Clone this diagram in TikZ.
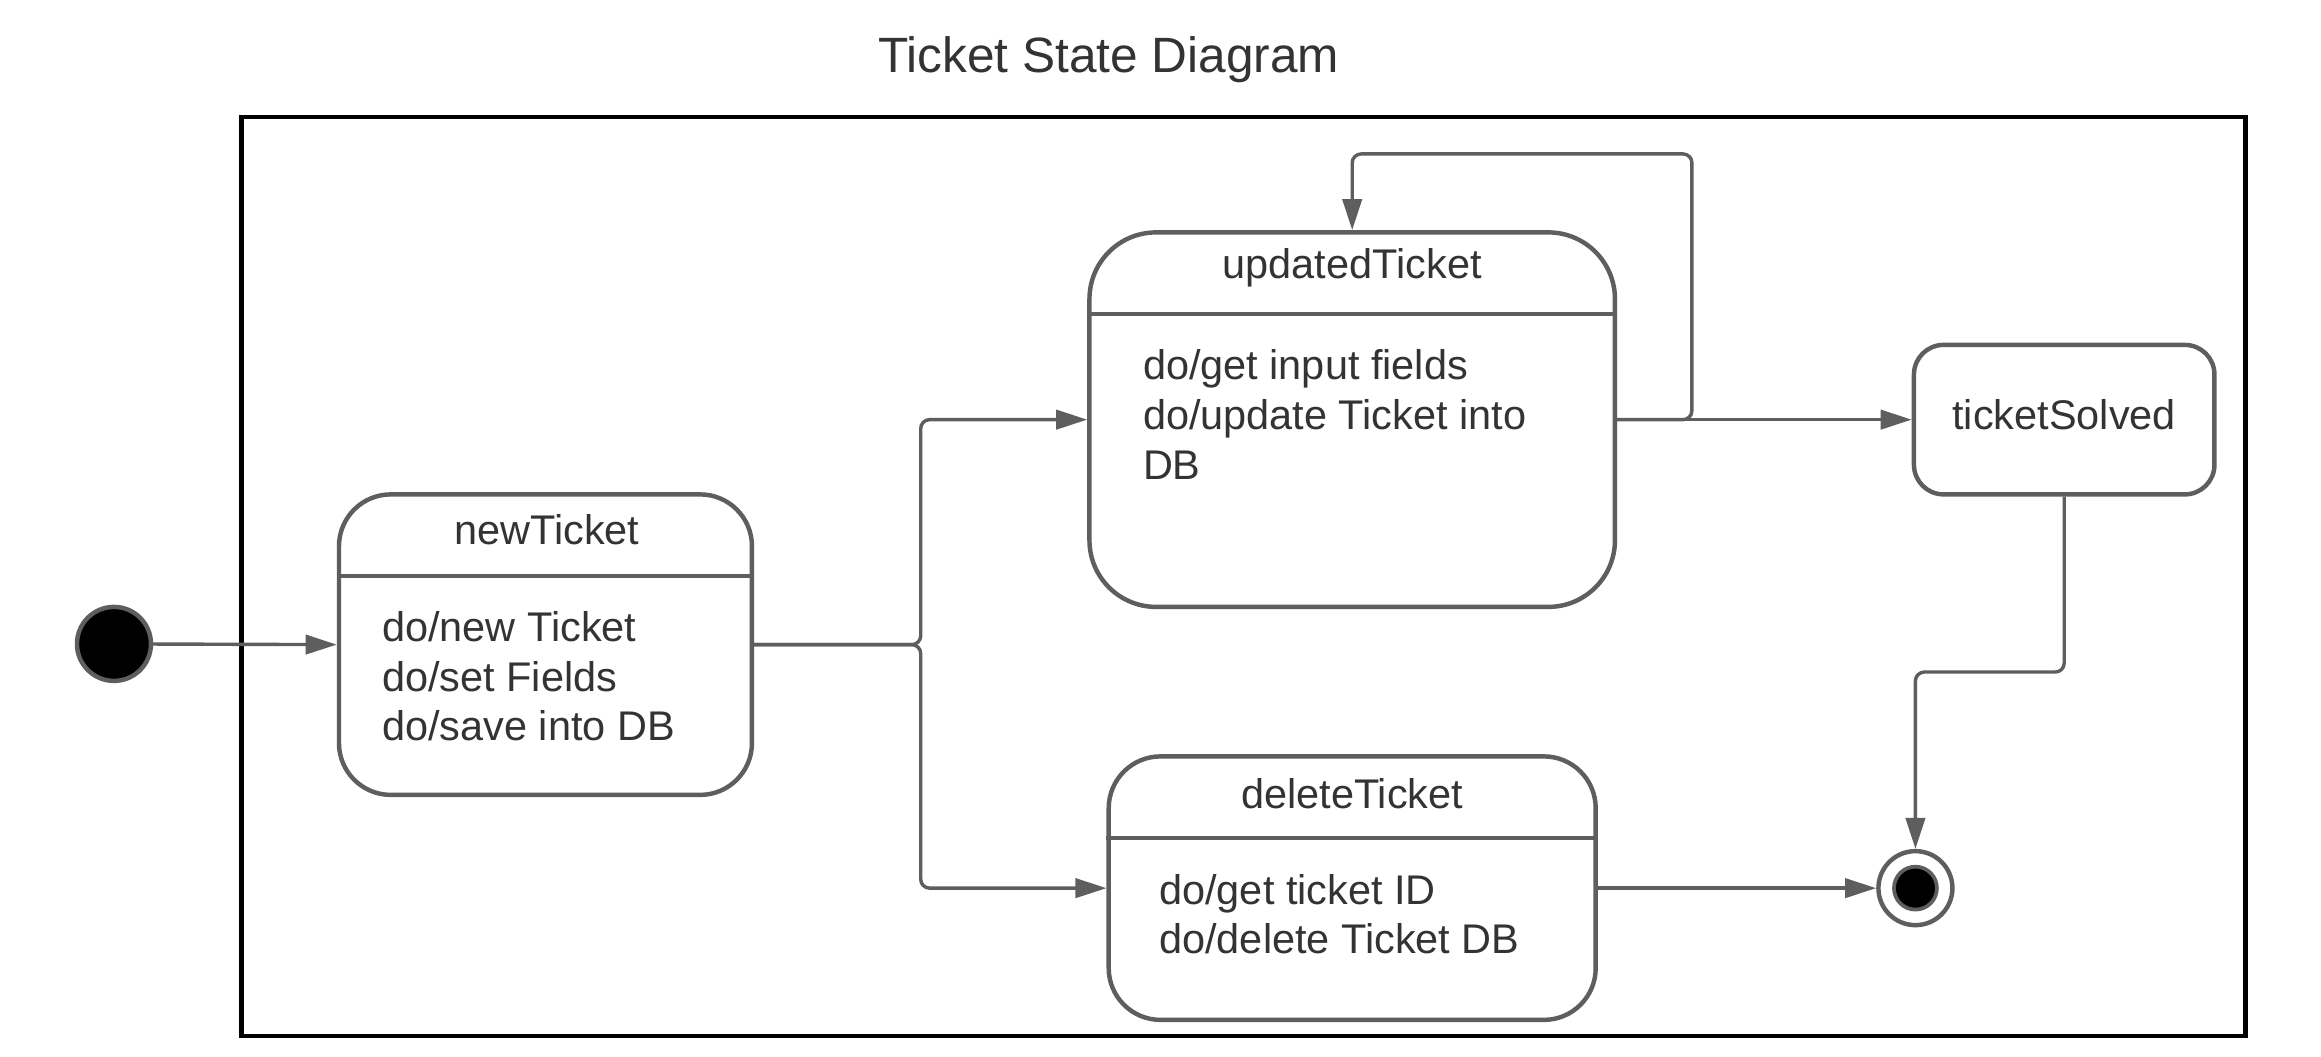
\documentclass[tikz,border=0pt]{standalone}
\usepackage{fontspec}
\setmainfont{Liberation Sans}
\usetikzlibrary{arrows.meta}

\definecolor{linegray}{HTML}{5E5E5E}
\definecolor{textgray}{HTML}{333333}

\tikzset{
  statebox/.style={draw=linegray, line width=3pt, fill=white, rounded corners=#1, inner sep=0pt},
  statebox/.default=35pt,
  statename/.style={text=textgray, inner sep=0pt, font=\fontsize{28}{33.5}\selectfont},
  activity/.style={text=textgray, inner sep=0pt, anchor=west, align=left, font=\fontsize{28}{33.5}\selectfont},
  divider/.style={draw=linegray, line width=3pt},
  flow/.style={draw=linegray, line width=2.3pt, rounded corners=6pt, -{Triangle[length=21pt,width=13pt]}},
  initial/.style={circle, fill=black, draw=linegray, line width=3pt, minimum size=50pt, inner sep=0pt},
  finalring/.style={circle, fill=white, draw=linegray, line width=3pt, minimum size=50pt, inner sep=0pt},
  finaldot/.style={circle, fill=black, draw=linegray, line width=2.5pt, minimum size=29pt, inner sep=0pt}
}

\begin{document}
\begin{tikzpicture}[x=1pt, y=-1pt]
        \useasboundingbox[fill=white] (0,0) rectangle (1568,714);

        % title and frame
        \node[text=textgray, font=\fontsize{33.5}{40}\selectfont] (title) at (749,40) {Ticket State Diagram};
        \node[draw=black, line width=3pt, minimum width=1354pt, minimum height=621pt, inner sep=0pt] (frame) at (840,389.5) {};

        % pseudo states
        \node[initial] (init) at (77,435) {};
        \node[finalring] (final) at (1294,600) {};
        \node[finaldot] (finaldot) at (final) {};

        % newTicket
        \node[statebox, minimum width=279pt, minimum height=203pt] (newT) at (368.5,435.5) {};
        \node[statename] (newTname) at (369.5,358) {newTicket};
        \draw[divider] (newT.west |- 0,389) -- (newT.east |- 0,389);
        \node[activity] (newTdo) at (258,457) {do/new Ticket\\do/set Fields\\do/save into DB};

        % updatedTicket
        \node[statebox=45pt, minimum width=355pt, minimum height=253pt] (updT) at (913.5,283.5) {};
        \node[statename] (updTname) at (913.5,181) {updatedTicket};
        \draw[divider] (updT.west |- 0,212) -- (updT.east |- 0,212);
        \node[activity] (updTdo) at (772,280) {do/get input fields\\do/update Ticket into\\DB};

        % ticketSolved
        \node[statebox=20pt, minimum width=203pt, minimum height=101pt] (solved) at (1394.5,283.5) {};
        \node[statename] (solvedname) at (1394.5,280) {ticketSolved};

        % deleteTicket
        \node[statebox, minimum width=329pt, minimum height=178pt] (delT) at (913.5,600) {};
        \node[statename] (delTname) at (913.5,536) {deleteTicket};
        \draw[divider] (delT.west |- 0,566) -- (delT.east |- 0,566);
        \node[activity] (delTdo) at (783,617.5) {do/get ticket ID\\do/delete Ticket DB};

        % helper points
        \coordinate (fork) at (622,435.5);
        \coordinate (loopR) at (1143,283.5);
        \coordinate (loopTop) at (1143,104);
        \coordinate (bend) at (1394.5,454);

        % transitions
        \path[flow] (init) -- (newT.west);
        \path[flow] (newT.east) -- (fork) |- (updT.west);
        \path[flow] (newT.east) -- (fork) |- (delT.west);
        \path[flow] (updT.east) -- (solved.west);
        \path[flow] (updT.east) -- (loopR) -- (loopTop) -| (updT.north);
        \path[flow] (solved.south) -- (bend) -| (final.north);
        \path[flow] (delT.east) -- (final.west);
    \end{tikzpicture}
\end{document}
